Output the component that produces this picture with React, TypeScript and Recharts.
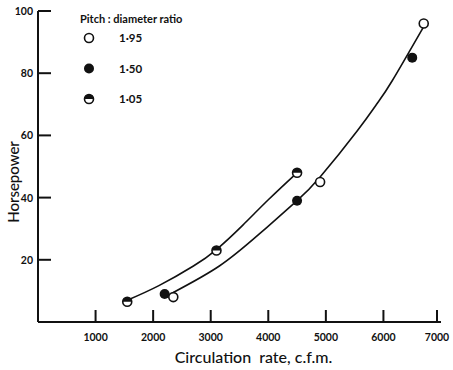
import { ComposedChart, Line, Scatter, XAxis, YAxis, Legend } from "recharts";

// measured points, pitch:diameter ratio
const ratio195 = [
  { x: 2350, y: 8 },
  { x: 4900, y: 45 },
  { x: 6700, y: 96 },
];
const ratio150 = [
  { x: 2200, y: 9 },
  { x: 4500, y: 39 },
  { x: 6500, y: 85 },
];
const ratio105 = [
  { x: 1550, y: 6.5 },
  { x: 3100, y: 23 },
  { x: 4500, y: 48 },
];

// hand-drawn fitted curves
const lowerCurve = [
  { x: 2350, y: 9.5 },
  { x: 3150, y: 18 },
  { x: 3850, y: 28.4 },
  { x: 4500, y: 39 },
  { x: 4900, y: 46.6 },
  { x: 5550, y: 61.6 },
  { x: 5900, y: 70.5 },
  { x: 6150, y: 77.5 },
  { x: 6700, y: 95 },
];
const upperCurve = [
  { x: 1550, y: 7 },
  { x: 2100, y: 11.7 },
  { x: 2700, y: 18 },
  { x: 3100, y: 23.3 },
  { x: 3550, y: 31 },
  { x: 4000, y: 39.3 },
  { x: 4500, y: 48 },
];

const xTicks = [1000, 2000, 3000, 4000, 5000, 6000, 7000];
const yTicks = [20, 40, 60, 80, 100];
const legendItems = [
  { label: "1·95", kind: "open" },
  { label: "1·50", kind: "filled" },
  { label: "1·05", kind: "half" },
];

const INK = "#111";
const FONT = "Lato, 'Liberation Sans', sans-serif";

function Marker({ cx, cy, kind }: { cx: number; cy: number; kind: string }) {
  const r = 4.5;
  if (kind === "filled") return <circle cx={cx} cy={cy} r={5} fill={INK} />;
  return (
    <g>
      <circle cx={cx} cy={cy} r={r} fill="#fff" stroke={INK} strokeWidth={1.6} />
      {kind === "half" && (
        <path d={`M${cx - r},${cy} A${r},${r} 0 0 1 ${cx + r},${cy} Z`} fill={INK} />
      )}
    </g>
  );
}

function XTick({ x, y, payload }: any) {
  return (
    <g>
      <line x1={x} y1={y} x2={x} y2={y - 12} stroke={INK} strokeWidth={2} />
      <text x={x} y={y + 19} textAnchor="middle" fontSize={10.5} fontWeight={700} fill={INK} fontFamily={FONT}>
        {payload.value}
      </text>
    </g>
  );
}

function YTick({ x, y, payload }: any) {
  return (
    <g>
      <line x1={x} y1={y} x2={x + 13} y2={y} stroke={INK} strokeWidth={2} />
      <text x={x - 5} y={y + 4} textAnchor="end" fontSize={10.5} fontWeight={700} fill={INK} fontFamily={FONT}>
        {payload.value}
      </text>
    </g>
  );
}

function LegendBox() {
  return (
    <svg width={140} height={100} style={{ display: "block" }}>
      <text x={4} y={15} fontSize={11} fontWeight={700} fill={INK} fontFamily={FONT}>
        Pitch : diameter ratio
      </text>
      {legendItems.map((it, i) => (
        <g key={it.label}>
          <Marker cx={13} cy={30 + i * 30.5} kind={it.kind} />
          <text x={43} y={34 + i * 30.5} fontSize={11.5} fontWeight={700} fill={INK} fontFamily={FONT}>
            {it.label}
          </text>
        </g>
      ))}
    </svg>
  );
}

export default function App() {
  return (
    <div style={{ position: "absolute", left: 0, top: 0, background: "#fff" }}>
      <ComposedChart width={453} height={370} margin={{ top: 11, right: 12, bottom: 8, left: 8 }}>
        <XAxis
          type="number"
          dataKey="x"
          domain={[0, 7000]}
          ticks={xTicks}
          height={40}
          tickSize={0}
          tickMargin={0}
          tick={<XTick />}
          axisLine={{ stroke: INK, strokeWidth: 2 }}
          tickLine={false}
          label={{
            content: ({ viewBox }: any) => (
              <text
                x={viewBox.x + viewBox.width / 2 + 14}
                y={viewBox.y + 41}
                textAnchor="middle"
                fontSize={16}
                fontWeight={500}
                fill={INK}
                fontFamily={FONT}
                style={{ whiteSpace: "pre" }}
              >
                {"Circulation  rate, c.f.m."}
              </text>
            ),
          }}
        />
        <YAxis
          type="number"
          dataKey="y"
          domain={[0, 100]}
          ticks={yTicks}
          width={30}
          tickSize={0}
          tickMargin={0}
          tick={<YTick />}
          axisLine={{ stroke: INK, strokeWidth: 2 }}
          tickLine={false}
          label={{
            content: () => (
              <text
                x={19}
                y={182}
                transform="rotate(-90, 19, 182)"
                textAnchor="middle"
                fontSize={15}
                fontWeight={500}
                fill={INK}
                fontFamily={FONT}
              >
                Horsepower
              </text>
            ),
          }}
        />
        <Legend
          layout="vertical"
          align="center"
          verticalAlign="middle"
          wrapperStyle={{ left: 76, top: 8, width: 140 }}
          content={() => <LegendBox />}
        />
        <Line data={upperCurve} dataKey="y" type="natural" stroke={INK} strokeWidth={1.6} dot={false} isAnimationActive={false} legendType="none" />
        <Line data={lowerCurve} dataKey="y" type="natural" stroke={INK} strokeWidth={1.6} dot={false} isAnimationActive={false} legendType="none" />
        <Scatter data={ratio105} dataKey="y" isAnimationActive={false} shape={(p: any) => <Marker cx={p.cx} cy={p.cy} kind="half" />} />
        <Scatter data={ratio150} dataKey="y" isAnimationActive={false} shape={(p: any) => <Marker cx={p.cx} cy={p.cy} kind="filled" />} />
        <Scatter data={ratio195} dataKey="y" isAnimationActive={false} shape={(p: any) => <Marker cx={p.cx} cy={p.cy} kind="open" />} />
      </ComposedChart>
    </div>
  );
}
